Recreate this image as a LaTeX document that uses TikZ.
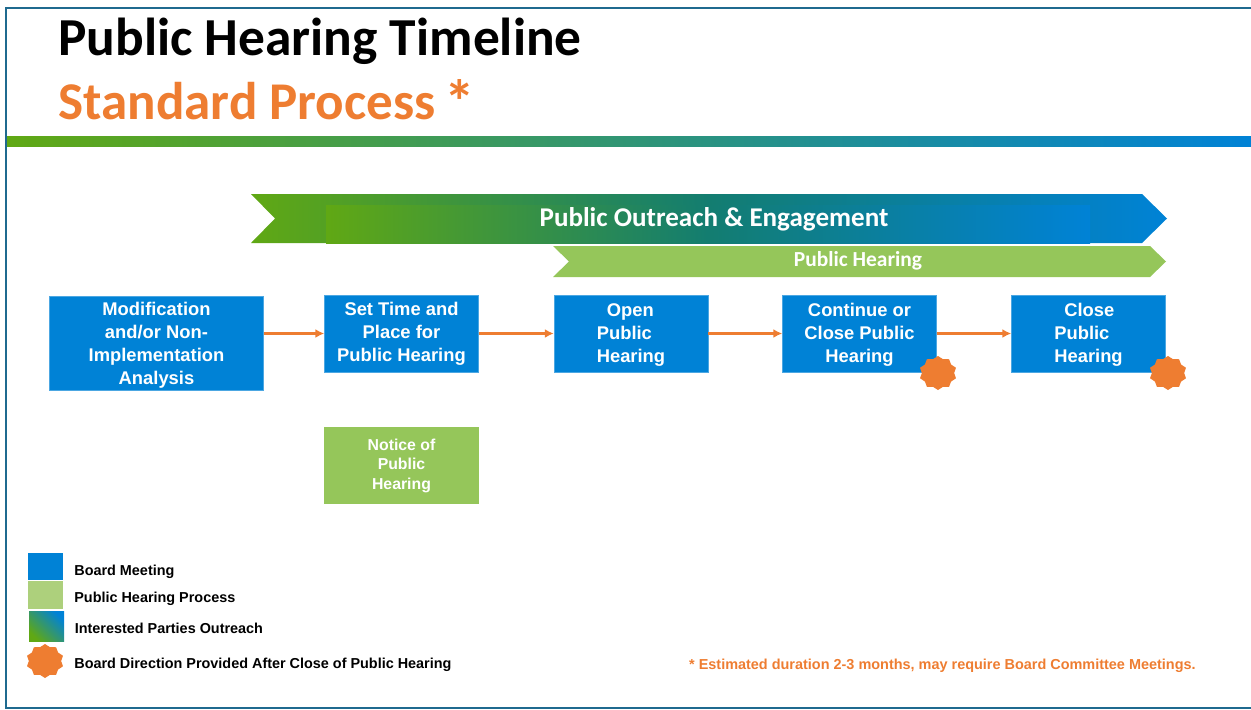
\documentclass[tikz,border=0pt]{standalone}
\usepackage{fontspec}
\setmainfont{Liberation Sans}
\newfontfamily\titlefont{Carlito}
\usetikzlibrary{arrows.meta,shapes.geometric}

\definecolor{boardblue}{HTML}{0082D6}
\definecolor{hearinggreen}{HTML}{95C65A}
\definecolor{legendgreen}{HTML}{ADD07C}
\definecolor{outreachgreen}{HTML}{60A814}
\definecolor{outreachteal}{HTML}{137D70}
\definecolor{accentorange}{HTML}{EE7D31}
\definecolor{framecolor}{HTML}{1F6A8F}

\tikzset{
  boardbox/.style={fill=boardblue, draw=boardblue!70!white, line width=0.3pt, inner sep=0pt,
    text=white, align=center, font=\fontsize{10.45}{13}\selectfont\bfseries},
  noticebox/.style={fill=hearinggreen, inner sep=0pt, text=white, align=center,
    font=\fontsize{9}{11.1}\selectfont\bfseries},
  legendtext/.style={anchor=west, inner sep=0pt, font=\fontsize{8.2}{10}\selectfont\bfseries},
  flowline/.style={accentorange, line width=1.4pt, -{Latex[length=5pt,width=5pt]}},
  burst/.style={star, star points=10, star point ratio=1.17, fill=accentorange, inner sep=0pt,
    minimum size=21.5pt, yscale=0.9, transform shape},
}

\begin{document}
\begin{tikzpicture}[x=0.2mm, y=-0.2mm]
  \useasboundingbox (0,0) rectangle (1251,709);

  % Frame and title rule
  \draw[framecolor, line width=1pt] (1251,8) -- (6,8) -- (6,708) -- (1251,708);
  \shade[left color=outreachgreen, right color=boardblue] (7,136) rectangle (1251,146);
  \node[anchor=base west, inner sep=0pt, font=\titlefont\fontsize{30.4}{32}\selectfont\bfseries] (title) at (58,55) {Public Hearing Timeline};
  \node[anchor=base west, inner sep=0pt, text=accentorange, font=\titlefont\fontsize{30.2}{32}\selectfont\bfseries] (subtitle) at (58,119) {Standard Process \hspace{-2pt}\raisebox{-2.5pt}{\fontsize{35}{36}\selectfont *}};

  % Outreach banner
  \shade[left color=outreachgreen, right color=boardblue, middle color=outreachteal]
    (251,194) -- (1142,194) -- (1167,218.5) -- (1142,243) -- (251,243) -- (275,218.5) -- cycle;
  \shade[left color=outreachgreen, right color=boardblue, middle color=outreachteal]
    (326,205) rectangle (1090,243);
  \node[text=white, inner sep=0pt, font=\titlefont\fontsize{15.4}{17}\selectfont\bfseries] (outreach) at (714,219) {Public Outreach \& Engagement};

  % Hearing banner
  \fill[hearinggreen] (553,246) -- (1150,246) -- (1166,261.5) -- (1150,277) -- (553,277) -- (569,261.5) -- cycle;
  \node[text=white, inner sep=0pt, font=\titlefont\fontsize{12.2}{14}\selectfont\bfseries] (hearing) at (858,261) {Public Hearing};

  % Steps
  \node[boardbox, minimum width=121.9pt, minimum height=53.3pt] (analysis) at (156.5,343) {\rule{0pt}{10.2pt}Modification\\and/or Non-\\Implementation\\Analysis};
  \node[boardbox, minimum width=87.6pt, minimum height=44pt] (settime) at (401.5,333.5) {Set Time and\\Place for\\Public Hearing};
  \node[boardbox, minimum width=87.6pt, minimum height=44pt, align=left] (open) at (631,333.5) {\rule{0pt}{9.3pt}\hspace*{5.7pt}Open\\Public\\Hearing};
  \node[boardbox, minimum width=87.6pt, minimum height=44pt] (continue) at (859.5,333.5) {\rule{0pt}{8.8pt}Continue or\\Close Public\\Hearing};
  \node[boardbox, minimum width=87.6pt, minimum height=44pt, align=left] (close) at (1088.5,333.5) {\rule{0pt}{9.3pt}\hspace*{5.7pt}Close\\Public\\Hearing};
  \node[noticebox, minimum width=88pt, minimum height=44pt] (notice) at (401.5,465.5) {Notice of\\Public\\Hearing};

  \draw[flowline] (analysis.east |- settime.west) -- (settime.west);
  \draw[flowline] (settime.east) -- (open.west);
  \draw[flowline] (open.east) -- (continue.west);
  \draw[flowline] (continue.east) -- (close.west);

  \node[burst] (burstcontinue) at (938,373) {};
  \node[burst] (burstclose) at (1168,373) {};

  % Legend
  \node[fill=boardblue, inner sep=0pt, minimum width=19.8pt, minimum height=15.3pt] (keyboard) at (45.5,566.5) {};
  \node[fill=legendgreen, inner sep=0pt, minimum width=19.8pt, minimum height=15.5pt] (keyprocess) at (45.5,595) {};
  \shade[left color=outreachgreen, middle color=outreachteal, right color=boardblue, shading angle=135] (29,611) rectangle (64,641);
  \node[burst] (keydirection) at (45,661) {};
  \node[legendtext] (labelboard) at (74,572) {Board Meeting};
  \node[legendtext] (labelprocess) at (74,599) {Public Hearing Process};
  \node[legendtext] (labeloutreach) at (74.5,628.5) {Interested Parties Outreach};
  \node[legendtext] (labeldirection) at (74,664.5) {Board Direction Provided After Close of Public Hearing};

  % Footnote
  \node[anchor=east, inner sep=0pt, text=accentorange, font=\fontsize{8.22}{10}\selectfont\bfseries] (footnote) at (1196,665.5) {* Estimated duration 2-3 months, may require Board Committee Meetings.};
\end{tikzpicture}
\end{document}
